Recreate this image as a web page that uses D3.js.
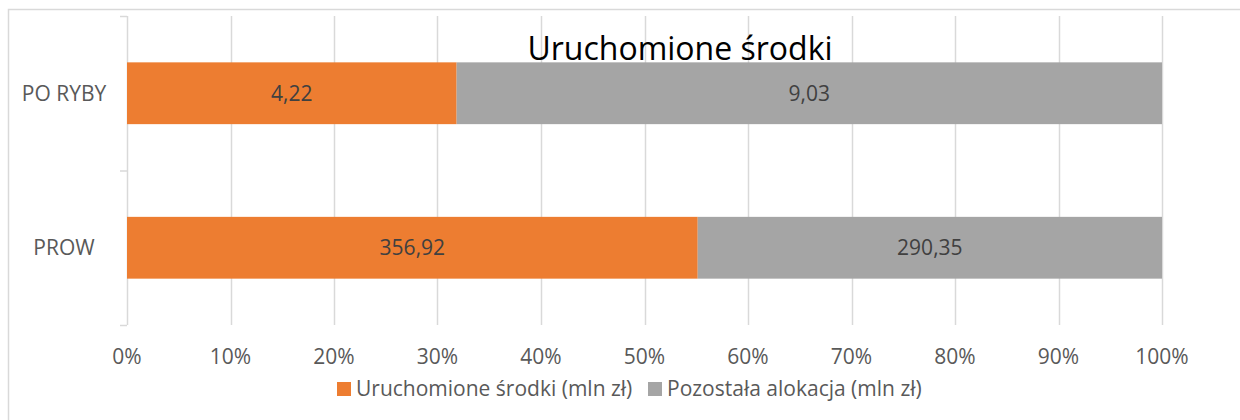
<!DOCTYPE html>
<html>
<head>
<meta charset="utf-8">
<script src="https://cdn.jsdelivr.net/npm/d3@7"></script>
<style>
  body { margin: 0; background: #fff; }
  svg text { font-family: "Open Sans", Lato, sans-serif; }
</style>
</head>
<body>
<svg id="chart"></svg>
<script>
// dane z wykresu
var categories = ["PO RYBY", "PROW"];
var seriesNames = ["Uruchomione środki (mln zł)", "Pozostała alokacja (mln zł)"];
var uruchomione = [4.22, 356.92];
var pozostala = [9.03, 290.35];
var xTicks = [0, 0.1, 0.2, 0.3, 0.4, 0.5, 0.6, 0.7, 0.8, 0.9, 1];
var colors = ["#ED7D31", "#A5A5A5"];

var width = 1240, height = 420;
var plot = {left: 127, right: 1162, top: 16, bottom: 325};

var svg = d3.select("#chart").attr("width", width).attr("height", height);

// ramka wykresu
svg.append("rect")
  .attr("x", 8.5).attr("y", 9.5)
  .attr("width", 1240).attr("height", 420)
  .attr("fill", "none").attr("stroke", "#D9D9D9").attr("stroke-width", 1.5);

var x = d3.scaleLinear().domain([0, 1]).range([plot.left, plot.right]);
var y = d3.scaleBand().domain(categories).range([plot.top, plot.bottom]).paddingInner(0.6).paddingOuter(0.3);
var yBand = d3.scaleBand().domain(categories).range([plot.top, plot.bottom]);

// siatka
svg.append("g").selectAll("line").data(xTicks.slice(1)).enter().append("line")
  .attr("x1", d => Math.round(x(d)) + 0.5).attr("x2", d => Math.round(x(d)) + 0.5)
  .attr("y1", plot.top).attr("y2", plot.bottom)
  .attr("stroke", "#D9D9D9").attr("stroke-width", 1.5);

// os y z kreskami
var yAxis = svg.append("g");
yAxis.append("line")
  .attr("x1", plot.left + 0.5).attr("x2", plot.left + 0.5)
  .attr("y1", plot.top).attr("y2", plot.bottom)
  .attr("stroke", "#D9D9D9").attr("stroke-width", 1.5);
var tickYs = [plot.top].concat(categories.map(c => yBand(c) + yBand.bandwidth()));
yAxis.selectAll(".tk").data(tickYs).enter().append("line")
  .attr("x1", plot.left - 7).attr("x2", plot.left)
  .attr("y1", d => d + 0.5).attr("y2", d => d + 0.5)
  .attr("stroke", "#D9D9D9").attr("stroke-width", 1.5);

yAxis.selectAll("text").data(categories).enter().append("text")
  .attr("x", 64).attr("y", d => yBand(d) + yBand.bandwidth() / 2)
  .attr("dy", "0.35em").attr("text-anchor", "middle")
  .attr("font-size", 21).attr("fill", "#595959")
  .text(d => d);

// dane -> stos 100%
var rows = categories.map(function (c, i) {
  var total = uruchomione[i] + pozostala[i];
  return {cat: c, vals: [uruchomione[i], pozostala[i]], total: total};
});

rows.forEach(function (r) {
  var acc = 0;
  r.vals.forEach(function (v, j) {
    var x0 = x(acc / r.total), x1 = x((acc + v) / r.total);
    svg.append("rect")
      .attr("x", x0).attr("y", y(r.cat))
      .attr("width", x1 - x0).attr("height", y.bandwidth())
      .attr("fill", colors[j]);
    svg.append("text")
      .attr("x", (x0 + x1) / 2).attr("y", y(r.cat) + y.bandwidth() / 2)
      .attr("dy", "0.36em").attr("text-anchor", "middle")
      .attr("font-size", 21).attr("fill", "#404040")
      .text(v.toFixed(2).replace(".", ","));
    acc += v;
  });
});

// os x
svg.append("g").selectAll("text").data(xTicks).enter().append("text")
  .attr("x", d => x(d)).attr("y", 364)
  .attr("text-anchor", "middle")
  .attr("font-size", 21).attr("fill", "#595959")
  .text(d => Math.round(d * 100) + "%");

// tytul
svg.append("text")
  .attr("x", 680).attr("y", 60)
  .attr("text-anchor", "middle")
  .attr("font-size", 32).attr("fill", "#000")
  .text("Uruchomione środki");

// legenda
var legend = svg.append("g");
var lx = [337, 648];
seriesNames.forEach(function (s, i) {
  legend.append("rect")
    .attr("x", lx[i]).attr("y", 382).attr("width", 14).attr("height", 14)
    .attr("fill", colors[i]);
  legend.append("text")
    .attr("x", lx[i] + 19).attr("y", 396)
    .attr("font-size", 21).attr("fill", "#595959")
    .text(s);
});
</script>
</body>
</html>
